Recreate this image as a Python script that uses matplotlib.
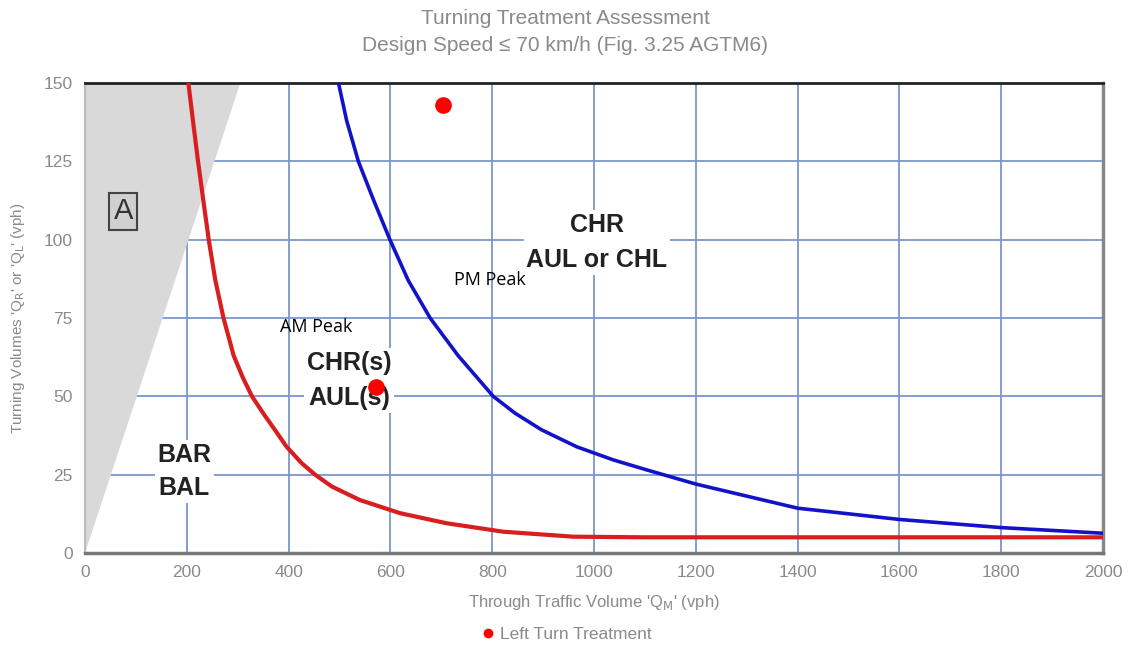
import matplotlib

matplotlib.use("Agg")

import matplotlib.pyplot as plt
from matplotlib.lines import Line2D

# Boundary curves (through volume vph, turning volume vph)
red_x = [203, 212, 222, 232, 243, 256, 272, 292, 310, 328, 350, 373, 396, 426,
         452, 485, 540, 619, 710, 821, 959, 1100, 1500, 2000]
red_y = [150, 138, 125, 113, 100, 87, 75, 63, 56, 50, 44.6, 39.3, 33.9, 28.6,
         25, 21.2, 16.9, 12.7, 9.5, 6.8, 5.2, 5, 5, 5]

blue_x = [498, 514, 537, 566, 599, 635, 678, 733, 802, 845, 897, 966,
          1038, 1104, 1200, 1400, 1600, 1800, 2000]
blue_y = [150, 138, 125, 113, 100, 87, 75, 63, 50, 44.6, 39.3, 33.9,
          29.7, 26.5, 22, 14.3, 10.7, 8.1, 6.3]

# Shaded "A" zone edge
shade_x = [0, 305, 0]
shade_y = [0, 150, 150]

# Assessed points (left turn treatment)
pt_x = [703, 572]
pt_y = [143, 53]

x_ticks = list(range(0, 2001, 200))
y_ticks = list(range(0, 151, 25))

GREY = "#8a8a8a"
GRID = "#7a97cc"
BOLD_FONT = ["Liberation Sans", "DejaVu Sans"]
TXT_FONT = ["Liberation Sans", "DejaVu Sans"]
PEAK_FONT = ["Open Sans", "DejaVu Sans"]

fig = plt.figure(figsize=(11.31, 6.46), dpi=100)
ax = fig.add_axes([0.0752, 0.144, 0.9, 0.7275])

ax.fill(shade_x, shade_y, color="#d9d9d9", lw=0, zorder=1)
ax.set_xlim(0, 2000)
ax.set_ylim(0, 150)
ax.set_xticks(x_ticks)
ax.set_yticks(y_ticks)
ax.grid(True, color=GRID, lw=1.3, zorder=2)
ax.set_axisbelow(True)
ax.tick_params(length=0, pad=9, labelsize=12.5, labelcolor=GREY)
for lab in ax.get_xticklabels() + ax.get_yticklabels():
    lab.set_family(TXT_FONT)

ax.spines["top"].set_color("#222222")
ax.spines["top"].set_linewidth(2)
ax.spines["bottom"].set_color("#777777")
ax.spines["bottom"].set_linewidth(2.5)
ax.spines["right"].set_color("#888888")
ax.spines["right"].set_linewidth(2.5)
ax.spines["left"].set_color("#bbbbbb")
ax.spines["left"].set_linewidth(1.5)

box = dict(facecolor="white", edgecolor="none", pad=2)
ax.text(195, 26, "BAR\nBAL", ha="center", va="center", fontsize=18,
        fontweight="bold", color="#222222", family=BOLD_FONT, bbox=box,
        linespacing=1.5, zorder=3)
ax.text(519, 55, "CHR(s)\nAUL(s)", ha="center", va="center", fontsize=18,
        fontweight="bold", color="#222222", family=BOLD_FONT, bbox=box,
        linespacing=1.6, zorder=3)
ax.text(1006, 99, "CHR\nAUL or CHL", ha="center", va="center", fontsize=18,
        fontweight="bold", color="#222222", family=BOLD_FONT, bbox=box,
        linespacing=1.6, zorder=3)
ax.text(75, 109, "A", ha="center", va="center", fontsize=21, color="#333333",
        family=TXT_FONT, zorder=3,
        bbox=dict(facecolor="#d0d0d0", edgecolor="#444444", lw=1.5, pad=3))

ax.plot(red_x, red_y, color="#d81e1e", lw=3, solid_joinstyle="round", zorder=4)
ax.plot(blue_x, blue_y, color="#1212c8", lw=2.6, solid_joinstyle="round", zorder=4)
ax.plot(pt_x, pt_y, "o", color="red", ms=11, zorder=6, clip_on=False)

ax.text(454, 72, "AM Peak", ha="center", va="center", fontsize=13,
        family=PEAK_FONT, color="black", zorder=5)
ax.text(796, 87, "PM Peak", ha="center", va="center", fontsize=13,
        family=PEAK_FONT, color="black", zorder=5)

ax.set_xlabel(r"Through Traffic Volume 'Q$_\mathrm{M}$' (vph)", color=GREY,
              fontsize=12, family=TXT_FONT, labelpad=9)
ax.set_ylabel(r"Turning Volumes 'Q$_\mathrm{R}$' or 'Q$_\mathrm{L}$' (vph)",
              color=GREY, fontsize=11, family=TXT_FONT, labelpad=12)

fig.text(0.5, 0.971, "Turning Treatment Assessment", ha="center", va="center",
         fontsize=15, color=GREY, family=TXT_FONT)
fig.text(0.5, 0.93, "Design Speed \u2264 70 km/h (Fig. 3.25 AGTM6)", ha="center",
         va="center", fontsize=15, color=GREY, family=TXT_FONT)

handle = Line2D([], [], marker="o", color="red", lw=0, ms=6)
fig.legend([handle], ["Left Turn Treatment"], loc="center", frameon=False,
           bbox_to_anchor=(0.5, 0.018), handletextpad=0.2, handlelength=1,
           prop=dict(family=TXT_FONT, size=12.5), labelcolor=GREY)

fig.savefig("out.png", dpi=100, facecolor="white")
